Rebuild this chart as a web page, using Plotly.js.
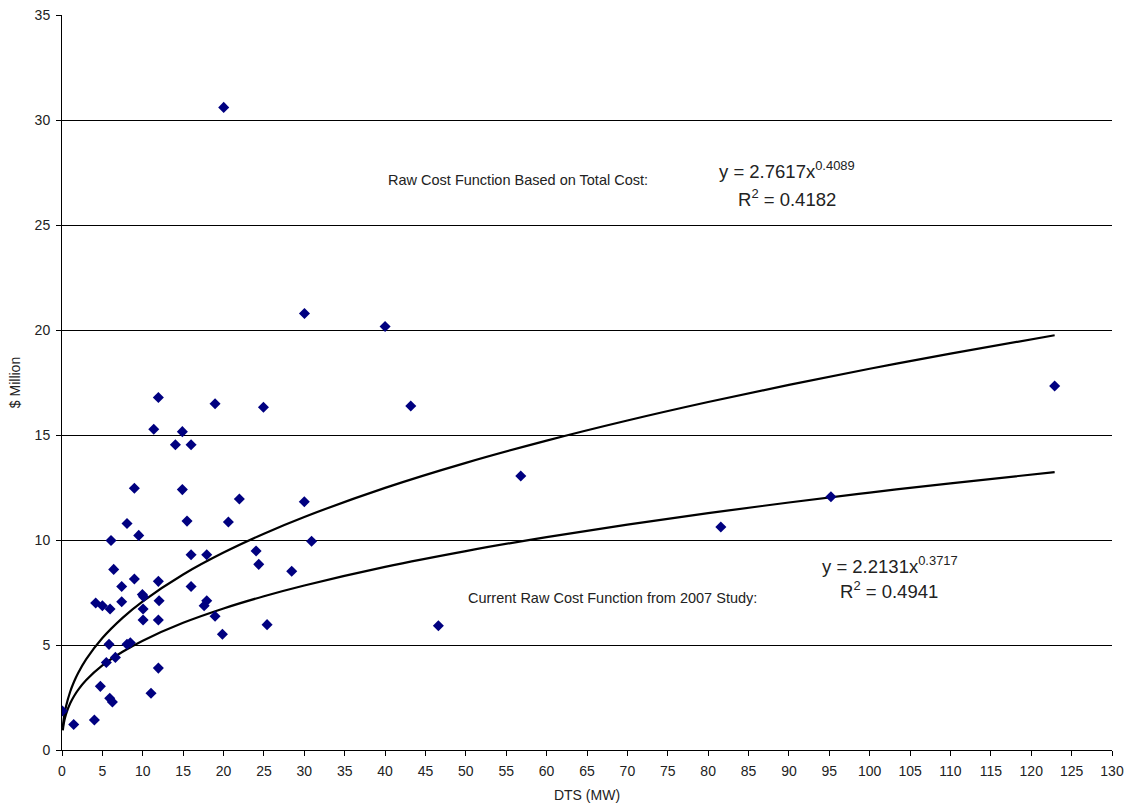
<!DOCTYPE html>
<html>
<head>
<meta charset="utf-8">
<script src="https://cdn.plot.ly/plotly-3.0.1.min.js"></script>
<style>html,body{margin:0;padding:0;background:#fff;}#chart{width:1129px;height:808px;}</style>
</head>
<body>
<div id="chart"></div>
<script>
// Observed projects: DTS (MW) vs cost ($ Million)
const dtsMW = [0.05, 1.45, 4.01, 4.75, 5.91, 6.24, 11.02, 5.49, 6.61, 11.93,
  5.82, 8.05, 8.46, 4.17, 5.0, 5.95, 7.39, 10.04, 12.02, 17.92,
  17.6, 10.04, 11.93, 18.95, 19.86, 25.39, 9.95, 10.1, 8.96, 11.93,
  7.39, 15.98, 6.4, 6.07, 9.5, 8.05, 15.48, 20.6, 30.9, 15.98,
  17.92, 24.03, 24.36, 28.44, 8.96, 14.9, 21.96, 30.0, 11.36, 14.9,
  14.04, 15.98, 11.93, 18.95, 24.94, 20.02, 30.02, 40.0, 43.18, 46.6,
  56.8, 81.57, 95.2, 122.9];
const costM = [1.86, 1.21, 1.43, 3.03, 2.46, 2.29, 2.70, 4.17, 4.41, 3.90,
  5.03, 5.03, 5.11, 7.0, 6.87, 6.71, 7.06, 6.71, 7.11, 7.11,
  6.87, 6.19, 6.19, 6.37, 5.51, 5.97, 7.40, 7.30, 8.14, 8.03,
  7.79, 7.79, 8.60, 9.98, 10.22, 10.79, 10.90, 10.86, 9.94, 9.30,
  9.30, 9.48, 8.84, 8.51, 12.46, 12.40, 11.95, 11.82, 15.27, 15.16,
  14.54, 14.54, 16.79, 16.49, 16.32, 30.6, 20.79, 20.17, 16.38, 5.92,
  13.05, 10.62, 12.06, 17.33];

// Trend curves
const trendX = [0.1, 0.2, 0.3, 0.5, 1, 1.5, 2, 3, 5, 7.5, 10, 15, 20, 25, 30, 40, 50, 60, 70, 80, 90, 100, 110, 122.9];
const totalCostTrend = [1.077, 1.430, 1.688, 2.080, 2.762, 3.260, 3.667, 4.328, 5.334, 6.295, 7.081, 8.358, 9.401, 10.299, 11.097, 12.482, 13.674, 14.732, 15.691, 16.571, 17.389, 18.155, 18.875, 19.752];
const study2007Trend = [0.940, 1.217, 1.415, 1.711, 2.213, 2.573, 2.863, 3.329, 4.026, 4.680, 5.207, 6.056, 6.739, 7.322, 7.835, 8.720, 9.474, 10.138, 10.736, 11.282, 11.787, 12.257, 12.700, 13.234];

const xTicks = [];
for (let v = 0; v <= 130; v += 5) xTicks.push(v);
const yTicks = [0, 5, 10, 15, 20, 25, 30, 35];

const font = 'Liberation Sans, Arial, sans-serif';
const txt = '#222';

const traces = [
  {x: trendX, y: totalCostTrend, type: 'scatter', mode: 'lines', line: {color: '#000', width: 2.2, shape: 'spline'}, hoverinfo: 'skip'},
  {x: trendX, y: study2007Trend, type: 'scatter', mode: 'lines', line: {color: '#000', width: 2.2, shape: 'spline'}, hoverinfo: 'skip'},
  {x: dtsMW, y: costM, type: 'scatter', mode: 'markers', marker: {symbol: 'diamond', color: '#000080', size: 8.5}}
];

const layout = {
  width: 1129, height: 808,
  margin: {l: 62, r: 17, t: 15, b: 58},
  paper_bgcolor: '#fff', plot_bgcolor: '#fff',
  showlegend: false,
  font: {family: font, size: 14, color: txt},
  xaxis: {
    range: [0, 130], tickvals: xTicks, ticktext: xTicks.map(String),
    showgrid: false, zeroline: false, showline: true, linecolor: '#000', linewidth: 1,
    ticks: 'outside', ticklen: 5, tickcolor: '#000', ticklabelstandoff: 3,
    tickfont: {family: font, size: 14, color: txt},
    title: {text: 'DTS (MW)', font: {family: font, size: 14, color: txt}, standoff: 12}
  },
  yaxis: {
    range: [0, 35], tickvals: yTicks, ticktext: yTicks.map(String),
    showgrid: true, gridcolor: '#000', gridwidth: 1, zeroline: false,
    showline: true, linecolor: '#000', linewidth: 1,
    ticks: 'outside', ticklen: 5, tickcolor: '#000', ticklabelstandoff: 3,
    tickfont: {family: font, size: 14, color: txt},
    title: {text: '$ Million', font: {family: font, size: 14, color: txt}, standoff: 10}
  },
  annotations: [
    {x: 56.45, y: 27.14, xref: 'x', yref: 'y', text: 'Raw Cost Function Based on Total Cost:', showarrow: false, font: {family: font, size: 14.5, color: txt}},
    {x: 89.7, y: 27.6, xref: 'x', yref: 'y', text: 'y = 2.7617x<sup>0.4089</sup>', showarrow: false, font: {family: font, size: 18.5, color: txt}},
    {x: 89.7, y: 26.3, xref: 'x', yref: 'y', text: 'R<sup>2</sup> = 0.4182', showarrow: false, font: {family: font, size: 18.5, color: txt}},
    {x: 68.2, y: 7.24, xref: 'x', yref: 'y', text: 'Current Raw Cost Function from 2007 Study:', showarrow: false, font: {family: font, size: 14.5, color: txt}},
    {x: 102.5, y: 8.81, xref: 'x', yref: 'y', text: 'y = 2.2131x<sup>0.3717</sup>', showarrow: false, font: {family: font, size: 18.5, color: txt}},
    {x: 102.4, y: 7.62, xref: 'x', yref: 'y', text: 'R<sup>2</sup> = 0.4941', showarrow: false, font: {family: font, size: 18.5, color: txt}}
  ]
};

Plotly.newPlot('chart', traces, layout, {displayModeBar: false, staticPlot: true});
</script>
</body>
</html>
